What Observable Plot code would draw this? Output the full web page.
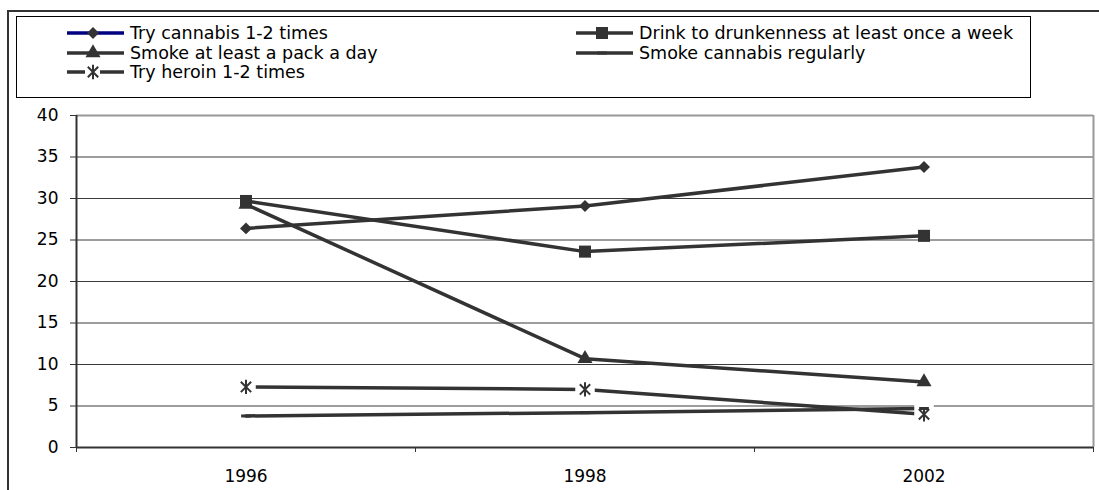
<!DOCTYPE html>
<html><head><meta charset="utf-8">
<script src="https://cdn.jsdelivr.net/npm/d3@7"></script>
<script src="https://cdn.jsdelivr.net/npm/@observablehq/plot@0.6"></script>
<style>
body{margin:0;background:#fff;}
#wrap{position:relative;width:1099px;height:490px;overflow:hidden;font-family:"DejaVu Sans",Arial,sans-serif;background:#fff;}
#frame{position:absolute;left:7px;top:10px;width:1200px;height:600px;border:2px solid #333;box-sizing:border-box;pointer-events:none;z-index:3;}
#legend{position:absolute;left:16px;top:16px;width:1015px;height:82px;border:1px solid #000;box-sizing:border-box;z-index:2;background:#fff;}
.item{position:absolute;display:flex;align-items:center;height:20px;font-size:17.5px;line-height:17px;color:#000;white-space:nowrap;}
.item svg{display:block;margin-right:6px;}
#chart{position:absolute;left:0;top:100px;z-index:1;}
</style></head>
<body><div id="wrap"><div id="chart"></div><div id="legend"></div><div id="frame"></div></div>
<script>
// ---- data ----
const years = ["1996", "1998", "2002"];
const seriesNames = [
  "Try cannabis 1-2 times",
  "Drink to drunkenness at least once a week",
  "Smoke at least a pack a day",
  "Smoke cannabis regularly",
  "Try heroin 1-2 times"
];
const tryCannabis   = [26.4, 29.1, 33.8];
const drinkDrunk    = [29.7, 23.6, 25.5];
const smokePack     = [29.3, 10.7, 7.9];
const smokeCannabis = [3.8, 4.2, 4.7];
const tryHeroin     = [7.3, 7.0, 4.0];
const yTicks = [0, 5, 10, 15, 20, 25, 30, 35, 40];

const seriesValues = [tryCannabis, drinkDrunk, smokePack, smokeCannabis, tryHeroin];
const rows = [];
seriesNames.forEach((s, k) => seriesValues[k].forEach((v, i) => rows.push({series: s, i, year: years[i], value: v})));
const of = s => rows.filter(d => d.series === s);

// custom symbols
const dashSymbol = {draw(ctx, size) { const w = Math.sqrt(size) * 0.55; ctx.moveTo(-w, -1.5); ctx.lineTo(w, -1.5); ctx.lineTo(w, 1.5); ctx.lineTo(-w, 1.5); ctx.closePath(); }};
const starSymbol = {draw(ctx, size) {
  const r = Math.sqrt(size / Math.PI);
  const a = r * 0.72;
  ctx.moveTo(0, -r); ctx.lineTo(0, r);
  ctx.moveTo(-a, -a); ctx.lineTo(a, a);
  ctx.moveTo(-a, a); ctx.lineTo(a, -a);
}};

const INK = "#333";
const markerDefs = [
  {symbol: "diamond2", r: 5.4, fill: INK, stroke: "none"},
  {symbol: "square", r: 6.8, fill: INK, stroke: "none"},
  {symbol: "triangle", r: 5.6, fill: INK, stroke: "none"},
  {symbol: dashSymbol, r: 5, fill: INK, stroke: "none"},
  {symbol: starSymbol, r: 7.2, fill: "none", stroke: INK, strokeWidth: 2}
];

const idx = years.map((d, i) => i);
const bounds = [-0.5, ...idx.map(i => i + 0.5)];

const plot = Plot.plot({
  width: 1099, height: 390,
  marginTop: 15, marginBottom: 43, marginLeft: 76, marginRight: 6,
  style: {background: "transparent", fontFamily: "'DejaVu Sans', Arial, sans-serif", fontSize: "17px", color: "#000"},
  x: {type: "linear", domain: [-0.5, years.length - 0.5], label: null},
  y: {domain: [0, 40], label: null},
  marks: [
    Plot.gridY(yTicks, {stroke: "#3a3a3a", strokeOpacity: 1, strokeWidth: 1}),
    Plot.ruleY([40], {stroke: "#999", strokeWidth: 2}),
    Plot.ruleX([years.length - 0.5], {stroke: "#999", strokeWidth: 2}),
    Plot.ruleX([-0.5], {stroke: INK, strokeWidth: 2}),
    Plot.ruleY([0], {stroke: INK, strokeWidth: 2}),
    Plot.axisY({ticks: yTicks, tickSize: 6, tickPadding: 12, stroke: INK, label: null, fontSize: 17}),
    Plot.axisX({ticks: idx, tickFormat: i => years[i], tickSize: 0, tickPadding: 22, label: null, fontSize: 17}),
    Plot.axisX({ticks: bounds, tickFormat: () => "", tickSize: 5, stroke: INK, label: null}),
    Plot.line(rows, {x: "i", y: "value", z: "series", stroke: INK, strokeWidth: 3.5}),
    Plot.dot(of(seriesNames[4]), {x: "i", y: "value", symbol: "square", r: 11, fill: "white", stroke: "none"}),
    ...seriesNames.map((s, k) => Plot.dot(of(s), {x: "i", y: "value", ...markerDefs[k]}))
  ]
});
document.getElementById("chart").appendChild(plot);

// ---- legend ----
const legend = document.getElementById("legend");
const legendPos = [
  {left: 50, top: 6}, {left: 559, top: 6},
  {left: 50, top: 26}, {left: 559, top: 26},
  {left: 50, top: 45}
];
const swatchLine = ["#000080", INK, INK, INK, INK];
seriesNames.forEach((s, k) => {
  const item = document.createElement("div");
  item.className = "item";
  item.style.left = legendPos[k].left + "px";
  item.style.top = legendPos[k].top + "px";
  const svg = d3.create("svg").attr("width", 57).attr("height", 20);
  if (k === 4) {
    svg.append("line").attr("x1", 0).attr("x2", 18).attr("y1", 10).attr("y2", 10).attr("stroke", INK).attr("stroke-width", 3.5);
    svg.append("line").attr("x1", 33).attr("x2", 57).attr("y1", 10).attr("y2", 10).attr("stroke", INK).attr("stroke-width", 3.5);
  } else {
    svg.append("line").attr("x1", 0).attr("x2", 57).attr("y1", 10).attr("y2", 10).attr("stroke", swatchLine[k]).attr("stroke-width", 3.5);
  }
  const m = markerDefs[k];
  const type = typeof m.symbol === "string" ? {diamond2: d3.symbolDiamond2, square: d3.symbolSquare, triangle: d3.symbolTriangle}[m.symbol] : m.symbol;
  svg.append("path").attr("transform", "translate(26,10)")
    .attr("d", d3.symbol(type, Math.PI * m.r * m.r)())
    .attr("fill", m.fill).attr("stroke", m.stroke).attr("stroke-width", m.strokeWidth || 0);
  item.appendChild(svg.node());
  const t = document.createElement("span");
  t.textContent = s;
  item.appendChild(t);
  legend.appendChild(item);
});
</script>
</body></html>
